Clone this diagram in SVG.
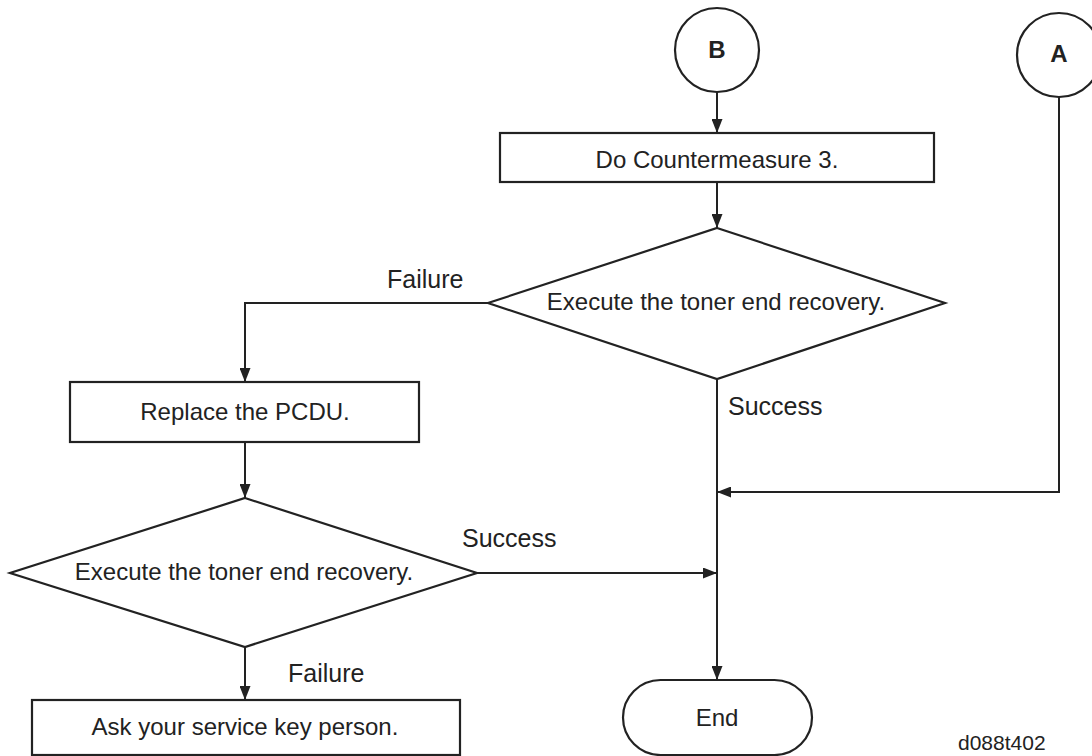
<svg xmlns="http://www.w3.org/2000/svg" width="1092" height="756" viewBox="0 0 1092 756">
<style>
.shape{fill:none;stroke:#222;stroke-width:2.2}
.conn{fill:none;stroke:#222;stroke-width:2}
.t{font-family:"Liberation Sans",Arial,sans-serif;font-size:24px;fill:#222;text-anchor:middle}
.lbl{font-family:"Liberation Sans",Arial,sans-serif;font-size:25px;fill:#222}
.con{font-family:"Liberation Sans",Arial,sans-serif;font-size:24px;font-weight:bold;fill:#222;text-anchor:middle}
</style>
<defs>
<marker id="arr" markerUnits="userSpaceOnUse" markerWidth="14" markerHeight="11" refX="14" refY="5.5" orient="auto">
<path d="M0,0 L14,5.5 L0,11 z" fill="#222"/>
</marker>
</defs>
<rect width="1092" height="756" fill="#fff"/>
<g id="connectors">
<line class="conn" x1="717" y1="92" x2="717" y2="133" marker-end="url(#arr)"/>
<line class="conn" x1="717" y1="182" x2="717" y2="228" marker-end="url(#arr)"/>
<polyline class="conn" points="488,303 245,303 245,382" marker-end="url(#arr)"/>
<line class="conn" x1="245" y1="442" x2="245" y2="498" marker-end="url(#arr)"/>
<line class="conn" x1="477" y1="573" x2="717" y2="573" marker-end="url(#arr)"/>
<line class="conn" x1="245" y1="647" x2="245" y2="700" marker-end="url(#arr)"/>
<line class="conn" x1="717" y1="379" x2="717" y2="680" marker-end="url(#arr)"/>
<polyline class="conn" points="1059,97 1059,492 717,492" marker-end="url(#arr)"/>
<text class="lbl" x="387" y="288">Failure</text>
<text class="lbl" x="728" y="415">Success</text>
<text class="lbl" x="462" y="547">Success</text>
<text class="lbl" x="288" y="682">Failure</text>
</g>
<g id="nodeB">
<circle class="shape" cx="717" cy="50" r="42"/>
<text class="con" x="717" y="58">B</text>
</g>
<g id="nodeA">
<circle class="shape" cx="1059" cy="55" r="42"/>
<text class="con" x="1059" y="62">A</text>
</g>
<g id="box1">
<rect class="shape" x="500" y="133" width="434" height="49"/>
<text class="t" x="717" y="168">Do Countermeasure 3.</text>
</g>
<g id="dec1">
<polygon class="shape" points="717,228 945,303 717,379 488,303"/>
<text class="t" x="716" y="310">Execute the toner end recovery.</text>
</g>
<g id="box2">
<rect class="shape" x="70" y="382" width="349" height="60"/>
<text class="t" x="245" y="420">Replace the PCDU.</text>
</g>
<g id="dec2">
<polygon class="shape" points="245,498 477,573 245,647 10,573"/>
<text class="t" x="244" y="580">Execute the toner end recovery.</text>
</g>
<g id="box3">
<rect class="shape" x="32" y="700" width="428" height="55"/>
<text class="t" x="245" y="735">Ask your service key person.</text>
</g>
<g id="end">
<rect class="shape" x="623" y="680" width="189" height="75" rx="37.5" ry="37.5"/>
<text class="t" x="717" y="726">End</text>
</g>
<text x="958" y="750" font-family="Liberation Sans, Arial, sans-serif" font-size="21" fill="#222">d088t402</text>
</svg>
